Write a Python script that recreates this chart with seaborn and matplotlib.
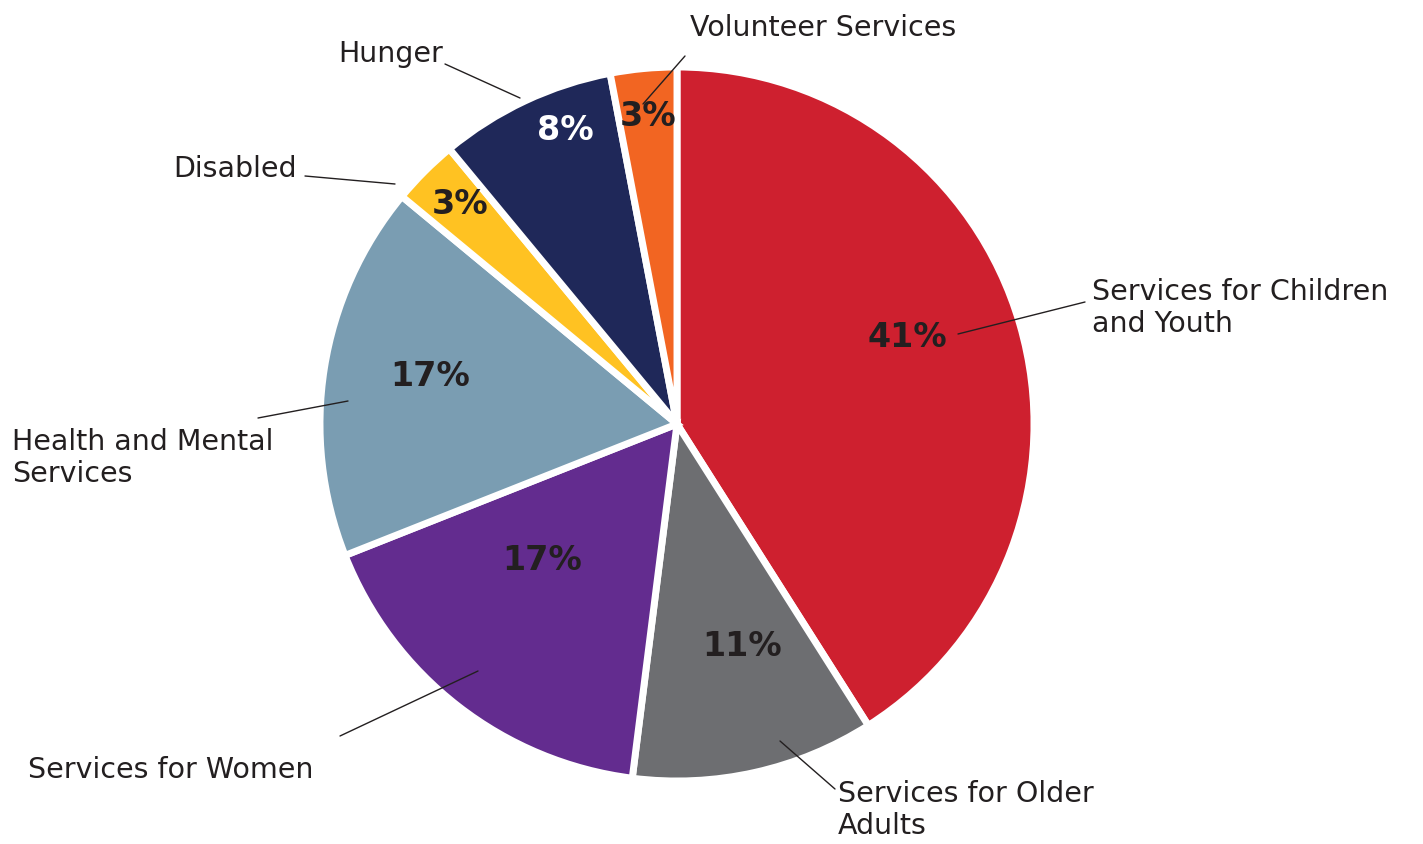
import matplotlib
matplotlib.use("Agg")
import matplotlib.pyplot as plt
import seaborn as sns

categories = ["Services for Children\nand Youth", "Services for Older\nAdults", "Services for Women",
              "Health and Mental\nServices", "Disabled", "Hunger", "Volunteer Services"]
values = [41, 11, 17, 17, 3, 8, 3]
pct_labels = ["41%", "11%", "17%", "17%", "3%", "8%", "3%"]
colors = ["#CE202F", "#6D6E71", "#632C8F", "#7A9DB2", "#FFC222", "#1F2859", "#F26522"]

sns.set_theme(style="white")
plt.rcParams['font.family'] = ['DejaVu Sans']

W, H = 1423, 845
fig = plt.figure(figsize=(W / 100, H / 100), dpi=100)
ax = fig.add_axes([0, 0, 1, 1])

def Y(y):
    return H - y

cx, cy, R = 677, 425, 357
pal = sns.color_palette(colors)
wedges, _ = ax.pie(values, colors=pal, startangle=90, counterclock=False,
                   center=(cx, Y(cy)), radius=R, explode=[0.015] * len(values),
                   wedgeprops=dict(edgecolor="white", linewidth=5))
ax.set_xlim(0, W)
ax.set_ylim(0, H)
ax.set_aspect("equal")
ax.axis("off")

txt = "#231F20"
# percentage labels
pct_pos = [(907, 338), (742, 647), (542, 560), (430, 377), (460, 205), (565, 130), (648, 117)]
pct_col = [txt, txt, txt, txt, txt, "white", txt]
for s, (x, y), c in zip(pct_labels, pct_pos, pct_col):
    ax.text(x, Y(y), s, ha="center", va="center", fontsize=24, fontweight="bold", color=c)

# category labels with leader lines
lab_pos = [(1092, 308, "left"), (838, 810, "left"), (28, 770, "left"),
           (12, 458, "left"), (297, 169, "right"), (443, 54, "right"), (690, 28, "left")]
leaders = [((1085, 303), (958, 335)), ((835, 790), (780, 742)), ((340, 737), (478, 672)),
           ((258, 419), (348, 402)), ((305, 177), (395, 185)), ((445, 65), (520, 99)),
           ((685, 57), (643, 105))]
for name, (x, y, ha), (p0, p1) in zip(categories, lab_pos, leaders):
    ax.text(x, Y(y), name, ha=ha, va="center", fontsize=20.5, color=txt, linespacing=1.2)
    ax.plot([p0[0], p1[0]], [Y(p0[1]), Y(p1[1])], color=txt, lw=1)

fig.savefig("out.png", dpi=100, facecolor="white")
